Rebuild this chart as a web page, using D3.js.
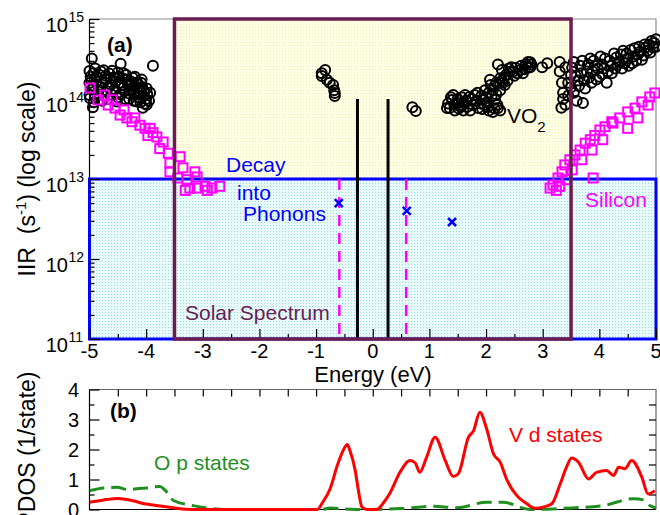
<!DOCTYPE html>
<html>
<head>
<meta charset="utf-8">
<script src="https://cdn.jsdelivr.net/npm/d3@7"></script>
<style>
  body { margin: 0; background: #fff; }
  svg { display: block; font-family: "Liberation Sans", Arial, Helvetica, sans-serif; }
</style>
</head>
<body>
<div id="chart-container"></div>
<script>
// Panel (a): impact ionization rate vs energy, [energy (eV), rate (1/s)]
var vo2Points = [
  [-4.96,3.2e14],[-4.45,2.75e14],[-3.88,2.6e14],[-4.2,1.9e14],[-4.08,1.75e14],[-3.99,1.35e14],
  [-4.06,7.8e13],[-3.99,8.5e13],[-4.17,9.3e13],[-4.94,7.9e13],[-4.99,1.02e14],
  [-5.0,2.24e14],[-5.0,1.58e14],[-5.0,1.12e14],[-4.98,1.91e14],[-4.95,1.32e14],[-4.92,9.1e13],
  [-4.9,2.4e14],[-4.88,1.66e14],[-4.85,1.15e14],[-4.82,2.0e14],[-4.8,1.41e14],[-4.78,9.5e13],
  [-4.75,2.29e14],[-4.72,1.74e14],[-4.7,1.26e14],[-4.68,1.0e14],[-4.65,2.09e14],[-4.62,1.51e14],
  [-4.6,1.12e14],[-4.57,1.86e14],[-4.55,1.32e14],[-4.52,9.3e13],[-4.5,2.14e14],[-4.47,1.58e14],
  [-4.45,1.15e14],[-4.42,1.82e14],[-4.4,1.38e14],[-4.37,1.0e14],[-4.35,2.0e14],[-4.32,1.51e14],
  [-4.3,1.17e14],[-4.27,1.66e14],[-4.25,1.32e14],[-4.22,9.5e13],[-4.2,1.45e14],[-4.17,1.15e14],
  [-4.15,1.58e14],[-4.12,1.26e14],[-4.1,9.1e13],[-4.07,1.41e14],[-4.05,1.1e14],[-4.02,8.7e13],
  [-3.98,1.15e14],
  [-4.97,1.75e14],[-4.93,2.1e14],[-4.93,1.45e14],[-4.9,1.05e14],[-4.87,1.9e14],[-4.84,1.3e14],
  [-4.8,2.2e14],[-4.77,1.6e14],[-4.74,1.1e14],[-4.71,1.95e14],[-4.67,1.4e14],[-4.63,1.8e14],
  [-4.6,2.25e14],[-4.58,1.25e14],[-4.54,1.65e14],[-4.5,1.05e14],[-4.48,1.9e14],[-4.43,1.5e14],
  [-4.4,2.1e14],[-4.38,1.25e14],[-4.34,1.75e14],[-4.3,1.0e14],[-4.28,1.45e14],[-4.24,1.85e14],
  [-4.21,1.2e14],[-4.18,1.6e14],[-4.14,1.05e14],[-4.11,1.35e14],[-4.09,1.6e14],[-4.04,1.25e14],
  [-4.0,1.0e14],[-3.95,9.5e13],[-3.93,1.2e14],
  [-0.84,2.3e14],[-0.9,2.1e14],[-0.9,1.94e14],[-0.81,1.74e14],[-0.7,1.5e14],[-0.68,1.29e14],
  [-0.67,1.19e14],[-0.67,1.09e14],[-0.76,1.6e14],[0.7,7.9e13],[0.76,7.1e13],
  [1.31,7.7e13],[1.36,7.7e13],[1.42,1.12e14],[1.4,9.7e13],[1.45,7.2e13],[1.5,1.0e14],
  [1.55,8.0e13],[1.58,8.4e13],[1.63,1.12e14],[1.65,9.5e13],[1.72,7.2e13],[1.75,1.0e14],
  [1.8,1.12e14],[1.86,7.7e13],[1.9,8.8e13],[1.95,9.8e13],[1.98,1.29e14],[2.0,1.05e14],
  [2.03,7.9e13],[2.07,1.74e14],[2.1,1.1e14],[2.12,6.9e13],[2.15,1.45e14],[2.16,9.8e13],
  [2.2,8.4e13],[2.21,2.7e14],[2.21,7.7e13],[2.25,1.82e14],[2.25,1.29e14],[2.25,7.2e13],
  [2.3,1.6e14],[2.33,1.5e14],[2.35,2.0e14],[2.42,2.19e14],[2.45,2.5e14],[2.5,1.95e14],
  [2.6,2.29e14],[2.65,2.1e14],[2.74,2.45e14],[2.74,2.9e14],[2.78,2.5e14],[2.78,2.88e14],
  [1.33,8.8e13],[1.38,1.05e14],[1.44,8.5e13],[1.48,9.0e13],[1.52,7.6e13],[1.57,1.05e14],
  [1.6,9.0e13],[1.6,7.2e13],[1.67,8.0e13],[1.7,1.05e14],[1.77,8.5e13],[1.83,9.5e13],
  [1.85,1.2e14],[1.92,1.1e14],[1.93,7.5e13],[1.97,8.5e13],[2.02,9.2e13],[2.05,1.2e14],
  [2.05,7.2e13],[2.08,1.5e14],[2.12,1.3e14],[2.15,7.6e13],[2.18,1.6e14],[2.18,1.15e14],
  [2.28,1.7e14],[2.28,2.3e14],[2.32,1.85e14],[2.38,1.7e14],[2.4,2.4e14],[2.48,2.2e14],
  [2.52,2.45e14],[2.55,2.1e14],[2.62,2.6e14],[2.68,2.35e14],[2.7,2.7e14],[2.8,2.7e14],
  [2.99,2.5e14],[3.08,2.8e14],[3.3,2.9e14],[3.3,2.2e14],[3.34,1.6e14],[3.36,1.2e14],
  [3.36,1.0e14],[3.33,7.8e13],[3.4,8.5e13],[3.45,1.1e14],[3.5,1.4e14],[3.5,2.0e14],
  [3.55,2.9e14],[3.6,9.5e13],[3.62,1.7e14],[3.66,2.6e14],[3.71,8.9e13],[3.75,1.35e14],
  [3.78,2.2e14],[3.84,3.2e14],[3.86,1.6e14],[3.92,2.6e14],[4.0,1.9e14],[4.02,3.4e14],
  [4.08,2.4e14],[4.13,1.6e14],[4.18,3.0e14],[4.22,2.1e14],[4.26,3.7e14],[4.32,2.7e14],
  [4.4,2.4e14],[4.42,4.0e14],[4.5,3.2e14],[4.58,2.8e14],[4.62,4.3e14],[4.68,3.6e14],
  [4.75,3.1e14],[4.8,4.8e14],[4.85,4.0e14],[4.92,5.3e14],[4.95,4.4e14],[5.0,5.6e14],
  [3.4,2.5e14],[3.45,1.6e14],[3.52,2.45e14],[3.55,1.2e14],[3.58,1.95e14],[3.64,1.45e14],
  [3.68,2.1e14],[3.7,3.0e14],[3.73,1.7e14],[3.8,2.7e14],[3.82,1.85e14],[3.88,2.2e14],
  [3.9,3.0e14],[3.95,1.75e14],[3.97,2.4e14],[4.05,2.7e14],[4.05,2.05e14],[4.1,3.2e14],
  [4.15,2.2e14],[4.2,2.6e14],[4.28,2.4e14],[4.3,3.3e14],[4.35,2.9e14],[4.38,3.6e14],
  [4.45,2.8e14],[4.48,3.7e14],[4.52,2.6e14],[4.55,4.1e14],[4.6,3.4e14],[4.65,3.0e14],
  [4.7,4.5e14],[4.72,3.9e14],[4.78,3.5e14],[4.82,4.4e14],[4.88,4.8e14],[4.9,3.8e14],
  [4.97,5.0e14],[5.0,4.5e14]
];

var siPoints = [
  [-4.99,1.37e14],[-4.85,9.7e13],[-4.73,1.12e14],[-4.67,8.4e13],[-4.6,9.8e13],[-4.55,7.7e13],
  [-4.46,6.3e13],[-4.39,7.3e13],[-4.34,5.8e13],[-4.25,5.2e13],[-4.2,5.8e13],[-4.11,4.7e13],
  [-4.02,4.3e13],[-3.97,3.5e13],[-3.93,4.3e13],[-3.88,3.8e13],[-3.81,3.35e13],[-3.76,2.4e13],
  [-3.7,2.9e13],[-3.61,2.1e13],[-3.58,1.58e13],[-3.58,1.23e13],[-3.4,1.9e13],[-3.35,1.38e13],
  [-3.44,1.03e13],[-3.28,9.8e12],[-3.14,1.23e13],[-3.1,1.06e13],[-3.23,7.7e12],[-3.1,7.7e12],
  [-2.96,8.1e12],[-2.92,7.2e12],[-2.84,7.7e12],[-2.7,8.1e12],[-3.31,7.2e12],
  [3.13,7.7e12],[3.18,8.4e12],[3.24,7.2e12],[3.27,1.03e13],[3.3,8.1e12],[3.34,1.23e13],
  [3.39,1.5e13],[3.41,9.8e12],[3.48,1.74e13],[3.52,1.3e13],[3.57,2.0e13],[3.66,2.3e13],
  [3.69,1.74e13],[3.75,2.8e13],[3.84,3.1e13],[3.87,2.3e13],[3.89,1.03e13],[3.92,3.5e13],
  [4.01,4.1e13],[4.06,3.1e13],[4.1,4.5e13],[4.22,5.2e13],[4.24,5.0e13],[4.36,5.8e13],
  [4.5,6.9e13],[4.5,4.3e13],[4.63,7.7e13],[4.68,5.8e13],[4.75,9.2e13],[4.86,8.4e13],
  [4.89,1.06e14],[4.98,1.19e14]
];

var phononPoints = [[-0.6,5.0e12],[0.6,4.0e12],[1.4,2.9e12]];

var vo2GapEdges = [-0.27, 0.27];
var vo2GapTop = 1e14;
var siGapEdges = [-0.59, 0.59];
var solarWindow = [-3.5, 3.5];
var phononLimit = 1e13;

var energyTicks = [-5,-4,-3,-2,-1,0,1,2,3,4,5];
var rateDecades = [1e11, 1e12, 1e13, 1e14, 1e15];
var dosTicks = [0, 1, 2, 3, 4];

// Panel (b): projected density of states
var vdEnergy = [-5,-4.75,-4.5,-4.25,-4.05,-3.75,-3.52,-3.3,-3,-0.98,-0.88,-0.75,-0.62,-0.5,-0.45,-0.4,
  -0.31,-0.25,-0.19,-0.1,0.07,0.2,0.3,0.48,0.66,0.75,0.83,0.95,1.1,1.28,1.42,1.51,1.69,1.78,1.89,
  2.01,2.13,2.25,2.36,2.54,2.72,2.86,3.01,3.16,3.31,3.42,3.51,3.63,3.81,3.95,4.13,4.25,4.34,4.45,
  4.57,4.75,4.86,4.98];
var vdStates = [0.24,0.32,0.37,0.3,0.2,0.12,0.06,0.01,0,0,0.25,0.7,1.5,2.05,2.17,1.95,
  1.3,0.6,0.08,0,0,0.25,0.53,1.24,1.63,1.55,1.24,1.74,2.41,1.63,1.1,1.19,2.41,2.63,3.24,
  2.69,1.86,1.58,1.02,0.47,0.19,0.04,0.08,0.19,0.86,1.41,1.72,1.58,1.02,1.24,1.3,1.13,1.41,1.36,
  1.63,1.08,0.52,0.63];

var opEnergy = [-5,-4.75,-4.51,-4.34,-4.0,-3.76,-3.6,-3.52,-3.17,-2.76,-2.5,-0.9,-0.75,-0.5,-0.17,
  0.5,1.07,1.48,2.01,2.3,2.78,3.36,4.07,4.6,4.78,4.89,5];
var opStates = [0.63,0.72,0.74,0.67,0.72,0.77,0.5,0.3,0.13,0.02,0,0,0.05,0.02,0,
  0.03,0.11,0.06,0.24,0.24,0,0.04,0.13,0.36,0.32,0.13,0.05];

var purple = '#6b1d52';
var magenta = '#ff00ff';
var blue = '#0000ff';
var green = '#1f8f1f';

var width = 660, height = 515;

var svg = d3.select('#chart-container').append('svg')
  .attr('width', width)
  .attr('height', height);

var x = d3.scaleLinear().domain([-5, 5]).range([89.5, 656]);
var yA = d3.scaleLog().domain([1e11, 1e15]).range([339, 19]);
var yB = d3.scaleLinear().domain([0, 4]).range([509.5, 389.5]);

// dotted fills, like the screen tones in the original
var defs = svg.append('defs');
function dotPattern(id, bg, dot) {
  var p = defs.append('pattern').attr('id', id)
    .attr('patternUnits', 'userSpaceOnUse').attr('width', 3).attr('height', 3);
  p.append('rect').attr('width', 3).attr('height', 3).attr('fill', bg);
  p.append('rect').attr('x', 0).attr('y', 0).attr('width', 1).attr('height', 1).attr('fill', dot);
}
dotPattern('yellowDots', '#ffffe8', '#f3eda2');
dotPattern('cyanDots', '#eafafa', '#96e1dc');

defs.append('clipPath').attr('id', 'clipB').append('rect')
  .attr('x', x(-5)).attr('y', yB(4)).attr('width', x(5) - x(-5)).attr('height', 130);

// ---------- panel (a) ----------
var pa = svg.append('g');

pa.append('rect')
  .attr('x', x(solarWindow[0])).attr('y', yA(1e15))
  .attr('width', x(solarWindow[1]) - x(solarWindow[0]))
  .attr('height', yA(1e11) - yA(1e15))
  .attr('fill', 'url(#yellowDots)');

pa.append('rect')
  .attr('x', x(-5)).attr('y', yA(phononLimit))
  .attr('width', x(5) - x(-5))
  .attr('height', yA(1e11) - yA(phononLimit))
  .attr('fill', 'url(#cyanDots)');

// frame
pa.append('path')
  .attr('d', 'M' + x(-5) + ',' + yA(1e15) + 'H' + x(5) + 'V' + yA(1e11))
  .attr('fill', 'none').attr('stroke', '#8c8c8c').attr('stroke-width', 1.2);
pa.append('line')
  .attr('x1', x(-5)).attr('x2', x(-5)).attr('y1', yA(1e15)).attr('y2', yA(1e11))
  .attr('stroke', '#000').attr('stroke-width', 1.2);

pa.append('rect')
  .attr('x', x(-5)).attr('y', yA(phononLimit))
  .attr('width', x(5) - x(-5))
  .attr('height', yA(1e11) - yA(phononLimit))
  .attr('fill', 'none').attr('stroke', blue).attr('stroke-width', 3);

// axes (ticks only, labels drawn separately)
var minorRates = yA.ticks().filter(function(d) {
  return rateDecades.indexOf(d) < 0;
});
pa.append('g').attr('transform', 'translate(' + x(-5) + ',0)')
  .call(d3.axisLeft(yA).tickValues(rateDecades).tickSize(-10).tickFormat(''));
pa.append('g').attr('transform', 'translate(' + x(-5) + ',0)')
  .call(d3.axisLeft(yA).tickValues(minorRates).tickSize(-5).tickFormat(''));

var halfSteps = d3.range(-4.5, 5, 1);
pa.append('g').attr('transform', 'translate(0,' + yA(1e11) + ')')
  .call(d3.axisBottom(x).tickValues(energyTicks).tickSize(-10).tickFormat(''));
pa.append('g').attr('transform', 'translate(0,' + yA(1e11) + ')')
  .call(d3.axisBottom(x).tickValues(halfSteps).tickSize(-5).tickFormat(''));

svg.selectAll('.domain').remove();
svg.selectAll('.tick line').attr('stroke-width', 1.2);

// band edges
pa.selectAll('.gapLine').data(vo2GapEdges).enter().append('line')
  .attr('x1', function(d) { return x(d); }).attr('x2', function(d) { return x(d); })
  .attr('y1', yA(vo2GapTop)).attr('y2', yA(1e11))
  .attr('stroke', '#000').attr('stroke-width', 3);

pa.selectAll('.siGap').data(siGapEdges).enter().append('line')
  .attr('x1', function(d) { return x(d); }).attr('x2', function(d) { return x(d); })
  .attr('y1', yA(phononLimit)).attr('y2', yA(1e11))
  .attr('stroke', magenta).attr('stroke-width', 2.5).attr('stroke-dasharray', '11,7');

// data
pa.selectAll('.vo2').data(vo2Points).enter().append('circle')
  .attr('cx', function(d) { return x(d[0]); })
  .attr('cy', function(d) { return yA(d[1]); })
  .attr('r', 5)
  .attr('fill', 'none').attr('stroke', '#000').attr('stroke-width', 2);

pa.selectAll('.si').data(siPoints).enter().append('rect')
  .attr('x', function(d) { return x(d[0]) - 4.5; })
  .attr('y', function(d) { return yA(d[1]) - 4.5; })
  .attr('width', 9).attr('height', 9)
  .attr('fill', 'none').attr('stroke', magenta).attr('stroke-width', 2);

pa.selectAll('.phonon').data(phononPoints).enter().append('path')
  .attr('transform', function(d) { return 'translate(' + x(d[0]) + ',' + yA(d[1]) + ')'; })
  .attr('d', 'M-4,-4L4,4M-4,4L4,-4')
  .attr('stroke', blue).attr('stroke-width', 2.5);

pa.append('rect')
  .attr('x', x(solarWindow[0])).attr('y', yA(1e15))
  .attr('width', x(solarWindow[1]) - x(solarWindow[0]))
  .attr('height', yA(1e11) - yA(1e15))
  .attr('fill', 'none').attr('stroke', purple).attr('stroke-width', 3.5);

// tick labels
rateDecades.forEach(function(d) {
  pa.append('text')
    .attr('x', 68).attr('y', yA(d) + 13)
    .attr('text-anchor', 'end').attr('font-size', 20)
    .text('10');
  pa.append('text')
    .attr('x', 68.5).attr('y', yA(d) + 2.5)
    .attr('font-size', 14)
    .text(Math.round(Math.log10(d)));
});

pa.selectAll('.xlab').data(energyTicks).enter().append('text')
  .attr('x', function(d) { return x(d); })
  .attr('y', 358)
  .attr('text-anchor', 'middle').attr('font-size', 20)
  .text(function(d) { return String(d); });

svg.append('text')
  .attr('x', 373).attr('y', 382)
  .attr('text-anchor', 'middle').attr('font-size', 22)
  .text('Energy (eV)');

var yTitle = svg.append('text')
  .attr('transform', 'translate(35,179) rotate(-90)')
  .attr('text-anchor', 'middle').attr('font-size', 23)
  .attr('xml:space', 'preserve');
yTitle.append('tspan').text('IIR  (s');
yTitle.append('tspan').attr('dy', -9).attr('font-size', 15).text('-1');
yTitle.append('tspan').attr('dy', 9).text(') (log scale)');

// annotations
pa.append('text').attr('x', 107).attr('y', 52)
  .attr('font-size', 21).attr('font-weight', 'bold').text('(a)');
pa.append('text').attr('x', 226).attr('y', 172)
  .attr('font-size', 21).attr('fill', blue).text('Decay');
pa.append('text').attr('x', 237).attr('y', 200)
  .attr('font-size', 21).attr('fill', blue).text('into');
pa.append('text').attr('x', 243).attr('y', 221)
  .attr('font-size', 21).attr('fill', blue).text('Phonons');
pa.append('text').attr('x', 185).attr('y', 320)
  .attr('font-size', 21).attr('fill', purple).text('Solar Spectrum');
var vo2Label = pa.append('text').attr('x', 507).attr('y', 123).attr('font-size', 21);
vo2Label.append('tspan').text('VO');
vo2Label.append('tspan').attr('dy', 9).attr('font-size', 15).text('2');
pa.append('text').attr('x', 585).attr('y', 207)
  .attr('font-size', 21).attr('fill', magenta).text('Silicon');

// ---------- panel (b) ----------
var pb = svg.append('g');

pb.append('path')
  .attr('d', 'M' + x(-5) + ',' + yB(4) + 'H' + x(5) + 'V' + yB(0))
  .attr('fill', 'none').attr('stroke', '#666').attr('stroke-width', 1.2);
pb.append('path')
  .attr('d', 'M' + x(-5) + ',' + yB(4) + 'V' + yB(0) + 'H' + x(5))
  .attr('fill', 'none').attr('stroke', '#000').attr('stroke-width', 1.2);

var dosHalf = [0.5, 1.5, 2.5, 3.5];
var dosAll = d3.range(0.5, 4, 0.5);
pb.append('g').attr('transform', 'translate(' + x(-5) + ',0)')
  .call(d3.axisLeft(yB).tickValues(dosTicks).tickSize(-10).tickFormat(''));
pb.append('g').attr('transform', 'translate(' + x(-5) + ',0)')
  .call(d3.axisLeft(yB).tickValues(dosHalf).tickSize(-5).tickFormat(''));
pb.append('g').attr('transform', 'translate(' + x(5) + ',0)')
  .call(d3.axisRight(yB).tickValues(dosAll).tickSize(-7).tickFormat(''));
pb.append('g').attr('transform', 'translate(0,' + yB(4) + ')')
  .call(d3.axisTop(x).tickValues(d3.range(-4.5, 5, 0.5)).tickSize(-7).tickFormat(''));
pb.selectAll('.domain').remove();
pb.selectAll('.tick line').attr('stroke-width', 1.2);

var opLine = d3.line()
  .x(function(d, i) { return x(opEnergy[i]); })
  .y(function(d) { return yB(d); })
  .curve(d3.curveMonotoneX);
var vdLine = d3.line()
  .x(function(d, i) { return x(vdEnergy[i]); })
  .y(function(d) { return yB(d); })
  .curve(d3.curveMonotoneX);

pb.append('path').datum(opStates)
  .attr('clip-path', 'url(#clipB)')
  .attr('d', opLine)
  .attr('fill', 'none').attr('stroke', green).attr('stroke-width', 3)
  .attr('stroke-dasharray', '15,7');
pb.append('path').datum(vdStates)
  .attr('clip-path', 'url(#clipB)')
  .attr('d', vdLine)
  .attr('fill', 'none').attr('stroke', '#ff0000').attr('stroke-width', 3)
  .attr('stroke-linejoin', 'round');

pb.selectAll('.ylab').data(dosTicks).enter().append('text')
  .attr('x', 79).attr('y', function(d) { return yB(d) + 7; })
  .attr('text-anchor', 'end').attr('font-size', 20)
  .text(function(d) { return d; });

svg.append('text')
  .attr('transform', 'translate(35,449.5) rotate(-90)')
  .attr('text-anchor', 'middle').attr('font-size', 23)
  .text('PDOS (1/state)');

pb.append('text').attr('x', 110).attr('y', 418)
  .attr('font-size', 21).attr('font-weight', 'bold').text('(b)');
pb.append('text').attr('x', 154).attr('y', 470)
  .attr('font-size', 21).attr('fill', green).text('O p states');
pb.append('text').attr('x', 509).attr('y', 442)
  .attr('font-size', 21).attr('fill', '#ff0000').text('V d states');
</script>
</body>
</html>
